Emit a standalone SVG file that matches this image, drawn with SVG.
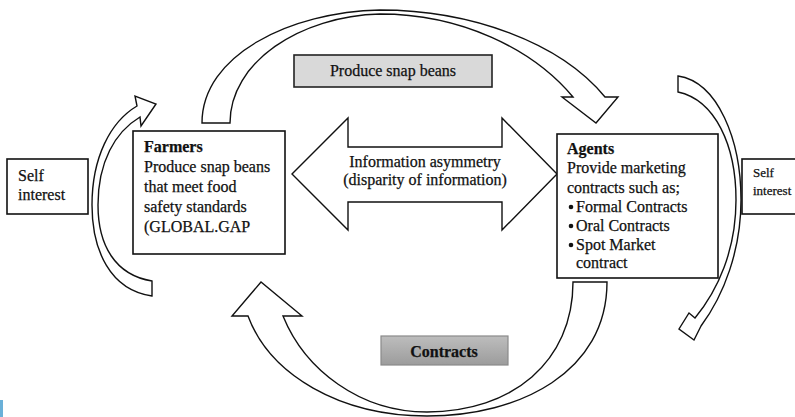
<svg xmlns="http://www.w3.org/2000/svg" width="795" height="417" viewBox="0 0 795 417">
<style>
.box{fill:#fff;stroke:#111;stroke-width:1.6}
.arr{fill:#fff;stroke:#111;stroke-width:1.4;stroke-linejoin:miter}
text{font-family:"Liberation Serif","Times New Roman",serif;fill:#111;font-size:16px;stroke:#111;stroke-width:0.25}
.b{font-weight:bold}
.sm{font-size:13px}
</style>
<defs>
<linearGradient id="g" x1="0" y1="0" x2="0" y2="1">
<stop offset="0" stop-color="#bdbdbd"/>
<stop offset="1" stop-color="#9c9c9c"/>
</linearGradient>
</defs>
<rect width="795" height="417" fill="#fff"/>
<rect x="0" y="400" width="3" height="17" fill="#6ab0d8"/>

<g id="connectors">
<path id="top-arrow" class="arr" d="M202,123 C202,55 290,12 380,10 C470,10 560,42 605,97 L618,97 L596,123 L562,97 L573,97 C532,48 460,14 380,14 C300,16 230,62 230,123 Z"/>
<path id="bottom-arrow" class="arr" d="M573,282 L607,282 C607,372 520,416 427,416 C340,416 270,375 248,316 L232,316 L261,282 L302,316 L283,316 C305,370 360,412 427,412 C512,412 573,362 573,282 Z"/>
<path id="left-self-arrow" class="arr" d="M152,296 C110,290 92,250 92,205 C92,158 110,122 137,106 L135,96 L156,104 L141,126 L140,117 C115,132 98,162 98,205 C98,245 115,275 152,281 Z"/>
<path id="right-self-arrow" class="arr" d="M678,76 C718,82 741,140 741,200 C741,250 724,295 701,326 L694,340 L679,329 L689,313 L695,318 C718,290 736,250 736,200 C736,145 715,100 678,92 Z"/>
<path id="info-arrow" class="arr" d="M292,174 L348,118 L348,147 L502,147 L502,118 L557,174 L502,230 L502,202 L348,202 L348,230 Z"/>
</g>

<g id="self-left">
<rect class="box" x="7" y="159" width="81" height="55"/>
<text x="18" y="181">Self</text>
<text x="18" y="200">interest</text>
</g>

<g id="farmers">
<rect class="box" x="133" y="131" width="152" height="123"/>
<text class="b" x="144" y="152">Farmers</text>
<text x="144" y="172">Produce snap beans</text>
<text x="144" y="192">that meet food</text>
<text x="144" y="212">safety standards</text>
<text x="144" y="232">(GLOBAL.GAP</text>
</g>

<g id="produce-label">
<rect x="294" y="55" width="198" height="32" fill="#d9d9d9" stroke="#222" stroke-width="1.6"/>
<text x="393" y="76" text-anchor="middle">Produce snap beans</text>
</g>

<g id="info-label">
<text x="425" y="167" text-anchor="middle">Information asymmetry</text>
<text x="425" y="185" text-anchor="middle">(disparity of information)</text>
</g>

<g id="agents">
<rect class="box" x="557" y="134" width="161" height="144"/>
<text class="b" x="567" y="154">Agents</text>
<text x="567" y="173">Provide marketing</text>
<text x="567" y="193">contracts such as;</text>
<circle cx="571" cy="207" r="2.3" fill="#111"/>
<text x="576" y="212">Formal Contracts</text>
<circle cx="571" cy="226" r="2.3" fill="#111"/>
<text x="576" y="231">Oral Contracts</text>
<circle cx="571" cy="245" r="2.3" fill="#111"/>
<text x="576" y="250">Spot Market</text>
<text x="576" y="268">contract</text>
</g>

<g id="self-right">
<rect class="box" x="742" y="159" width="60" height="55"/>
<text class="sm" x="753" y="177">Self</text>
<text class="sm" x="753" y="195">interest</text>
</g>

<g id="contracts-label">
<rect x="381" y="336" width="127" height="29" fill="url(#g)" stroke="#8a8a8a" stroke-width="1.2"/>
<text class="b" x="444" y="357" text-anchor="middle" font-size="15">Contracts</text>
</g>
</svg>
